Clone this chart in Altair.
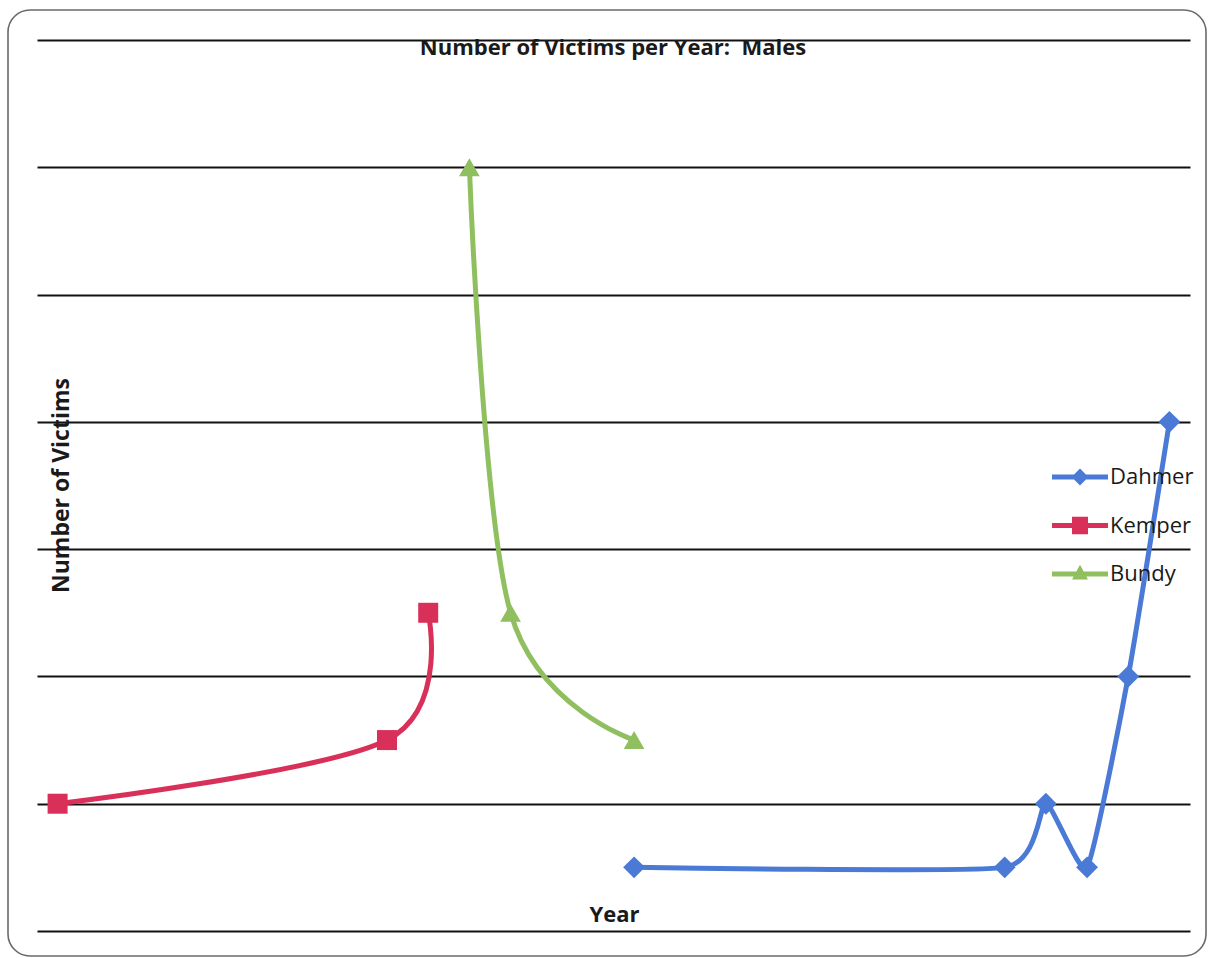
import altair as alt
import pandas as pd

# Victims per year for each killer
series_names = ["Dahmer", "Kemper", "Bundy"]
series_colors = ["#4A7AD6", "#D93059", "#90BF5F"]
marker_shapes = ["diamond", "square", "triangle-up"]
marker_sizes = [480, 400, 430]
curve_tension = [0.5, 0.0, 0.0]

dahmer_years = [1978, 1987, 1988, 1989, 1990, 1991]
dahmer_victims = [1, 1, 2, 1, 4, 8]
kemper_years = [1964, 1972, 1973]
kemper_victims = [2, 3, 5]
bundy_years = [1974, 1975, 1978]
bundy_victims = [12, 5, 3]

y_ticks = [0, 2, 4, 6, 8, 10, 12, 14]
title_text = "Number of Victims per Year:\u00a0 Males"

rows = []
for name, years, vals in [
    ("Dahmer", dahmer_years, dahmer_victims),
    ("Kemper", kemper_years, kemper_victims),
    ("Bundy", bundy_years, bundy_victims),
]:
    for yr, v in zip(years, vals):
        rows.append({"series": name, "year": yr, "victims": v})
df = pd.DataFrame(rows)

# Legend symbols: a short line with the series marker in the middle
bar = "M-1.4,-0.12H1.4V0.12H-1.4Z"
legend_paths = [
    bar + "M0,-0.42L0.42,0L0,0.42L-0.42,0Z",
    bar + "M-0.4,-0.44H0.4V0.44H-0.4Z",
    bar + "M0,-0.46L0.4,0.28H-0.4Z",
]

FONT = "Open Sans"

x_enc = alt.X(
    "year:Q",
    scale=alt.Scale(domain=[1963.5, 1991.5], nice=False, zero=False),
    axis=alt.Axis(
        title="Year", labels=False, ticks=False, domain=False, grid=False,
        titleX=577, titleY=-10, titleAlign="center", titleBaseline="alphabetic",
        titleFont=FONT, titleFontSize=22, titleFontWeight="bold", titleColor="#1a1a1a",
    ),
)
y_enc = alt.Y(
    "victims:Q",
    scale=alt.Scale(domain=[0, 14], nice=False),
    axis=alt.Axis(
        title="Number of Victims", labels=False, ticks=False, domain=False,
        grid=True, values=y_ticks, gridColor="#111111", gridWidth=2, gridOpacity=1,
        titleX=31, titleY=445, titleAngle=270, titleAlign="center",
        titleBaseline="alphabetic",
        titleFont=FONT, titleFontSize=23, titleFontWeight="bold", titleColor="#1a1a1a",
    ),
)

base = alt.Chart(df)

# One smoothed line plus markers per series
series_layers = []
for name, col, shp, sz, ten in zip(
    series_names, series_colors, marker_shapes, marker_sizes, curve_tension
):
    sub = base.transform_filter(alt.datum.series == name)
    series_layers.append(
        sub.mark_line(interpolate="cardinal", tension=ten, strokeWidth=5, color=col)
        .encode(x=x_enc, y=y_enc)
    )
    series_layers.append(
        sub.mark_point(filled=True, opacity=1, shape=shp, size=sz, color=col, strokeWidth=0)
        .encode(x=x_enc, y=y_enc)
    )

legend_layer = base.transform_filter("false").mark_point(
    filled=True, opacity=1, size=1600, strokeWidth=0
).encode(
    x=x_enc, y=y_enc,
    color=alt.Color(
        "series:N",
        scale=alt.Scale(domain=series_names, range=series_colors),
        legend=alt.Legend(
            title=None, orient="none", legendX=1023, legendY=417,
            symbolSize=1600, symbolStrokeWidth=0, labelOffset=10,
            rowPadding=17.5, padding=0, labelFont=FONT, labelFontSize=22,
            labelColor="#1a1a1a", labelBaseline="middle",
        ),
    ),
    shape=alt.Shape("series:N", scale=alt.Scale(domain=series_names, range=legend_paths)),
)

title_layer = alt.Chart(pd.DataFrame({"t": [title_text]})).mark_text(
    font=FONT, fontSize=22, fontWeight="bold", color="#1a1a1a",
    align="center", baseline="alphabetic",
).encode(x=alt.value(576), y=alt.value(15), text="t:N")

frame = alt.Chart(pd.DataFrame({"f": [0]})).mark_rect(
    fillOpacity=0, stroke="#6a6a6a", strokeWidth=1.6, cornerRadius=22
).encode(
    x=alt.value(-29), x2=alt.value(1169), y=alt.value(-30), y2=alt.value(916)
)

chart = alt.layer(
    frame, *series_layers, legend_layer, title_layer
).properties(
    width=1153, height=891,
    autosize=alt.AutoSizeParams(type="none"),
    padding={"left": 37, "top": 40, "right": 24, "bottom": 27},
    background="white",
).configure_view(stroke=None)

chart.save("out.html", embed_options={"renderer": "svg", "actions": False})
